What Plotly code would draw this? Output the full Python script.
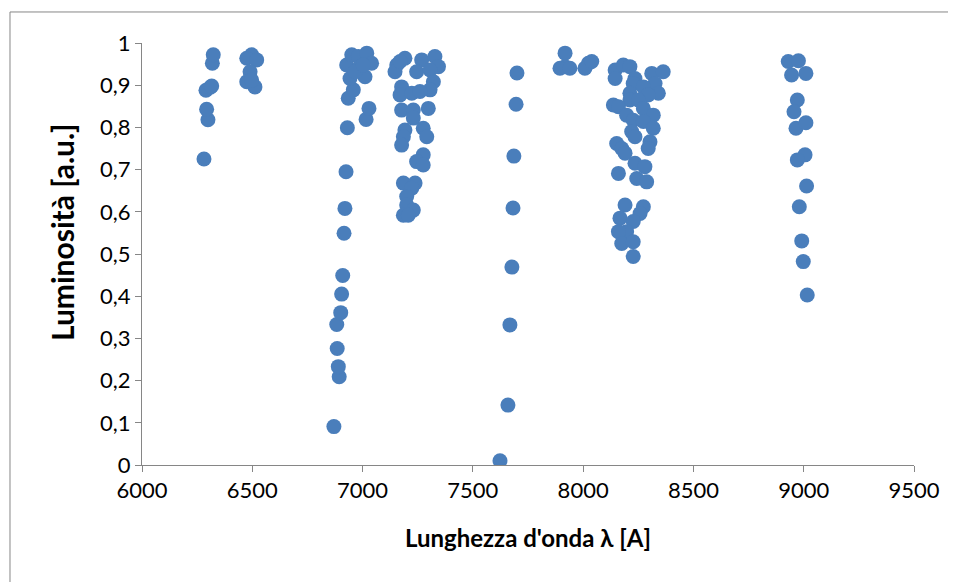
import plotly.graph_objects as go

# Wavelength [A] and luminosity [a.u.]
wavelength_a = [6281, 6299, 6293, 6290, 6310, 6316, 6319, 6323]
luminosity_a = [0.725, 0.818, 0.843, 0.888, 0.895, 0.898, 0.952, 0.972]

wavelength_b = [6497, 6475, 6520, 6490, 6475, 6512, 6497]
luminosity_b = [0.972, 0.964, 0.960, 0.932, 0.908, 0.896, 0.912]

wavelength_c = [6870, 6894, 6890, 6885, 6883, 6901, 6905, 6910, 6916, 6920, 6925, 6931,
                7016, 7029, 6935, 6958, 6943, 7011, 6928, 6951, 6981, 7019, 7041, 6988,
                6966, 7003]
luminosity_c = [0.091, 0.209, 0.233, 0.276, 0.333, 0.361, 0.405, 0.449, 0.549, 0.608, 0.695, 0.799,
                0.819, 0.845, 0.869, 0.889, 0.916, 0.920, 0.948, 0.972, 0.968, 0.976, 0.952, 0.944,
                0.932, 0.948]

wavelength_d = [7155, 7147, 7192, 7170, 7268, 7328, 7344, 7245, 7306, 7177, 7170, 7321,
                7306, 7223, 7260, 7177, 7230, 7298, 7230, 7192, 7275, 7291, 7185, 7177,
                7275, 7245, 7275, 7185, 7238, 7223, 7200, 7200, 7230, 7185, 7207]
luminosity_d = [0.948, 0.932, 0.964, 0.956, 0.960, 0.968, 0.944, 0.932, 0.936, 0.896, 0.877, 0.908,
                0.889, 0.881, 0.885, 0.841, 0.841, 0.845, 0.822, 0.794, 0.798, 0.778, 0.778, 0.758,
                0.735, 0.719, 0.711, 0.668, 0.668, 0.656, 0.636, 0.616, 0.604, 0.592, 0.592]

wavelength_e = [7623, 7659, 7668, 7677, 7682, 7686, 7696, 7700]
luminosity_e = [0.010, 0.142, 0.332, 0.469, 0.609, 0.732, 0.855, 0.929]

wavelength_f = [7918, 7918, 7895, 7940, 8024, 8008, 8039]
luminosity_f = [0.976, 0.944, 0.940, 0.940, 0.952, 0.940, 0.956]

wavelength_g = [8145, 8145, 8182, 8212, 8235, 8227, 8311, 8363, 8326, 8273, 8341, 8212,
                8295, 8212, 8250, 8137, 8160, 8273, 8197, 8318, 8227, 8273, 8318, 8220,
                8235, 8303, 8295, 8152, 8175, 8190, 8235, 8280, 8160, 8243, 8288, 8190,
                8273, 8258, 8167, 8227, 8197, 8160, 8175, 8227, 8227]
luminosity_g = [0.936, 0.916, 0.948, 0.944, 0.916, 0.904, 0.928, 0.932, 0.904, 0.896, 0.881, 0.881,
                0.877, 0.865, 0.865, 0.853, 0.849, 0.845, 0.829, 0.829, 0.817, 0.814, 0.798, 0.790,
                0.778, 0.766, 0.750, 0.762, 0.750, 0.739, 0.715, 0.707, 0.691, 0.679, 0.671, 0.616,
                0.612, 0.596, 0.585, 0.577, 0.553, 0.553, 0.525, 0.529, 0.494]

wavelength_h = [8930, 8976, 8945, 9010, 8971, 8956, 8965, 9010, 9006, 8971, 9013, 8980,
                8991, 8998, 9016]
luminosity_h = [0.956, 0.958, 0.924, 0.928, 0.865, 0.837, 0.798, 0.811, 0.735, 0.723, 0.661, 0.612,
                0.531, 0.482, 0.403]

x_ticks = [6000, 6500, 7000, 7500, 8000, 8500, 9000, 9500]
y_ticks = [0, 0.1, 0.2, 0.3, 0.4, 0.5, 0.6, 0.7, 0.8, 0.9, 1]

wavelength = (wavelength_a + wavelength_b + wavelength_c + wavelength_d +
              wavelength_e + wavelength_f + wavelength_g + wavelength_h)
luminosity = (luminosity_a + luminosity_b + luminosity_c + luminosity_d +
              luminosity_e + luminosity_f + luminosity_g + luminosity_h)

FONT = "Lato"
AXIS_COLOR = "#868686"

fig = go.Figure(go.Scatter(
    x=wavelength, y=luminosity, mode="markers",
    marker=dict(size=15, color="#4a7ebb", line=dict(width=0)),
    hoverinfo="x+y", showlegend=False,
))

frame = dict(color=AXIS_COLOR, width=1)

fig.update_layout(
    width=956, height=582,
    margin=dict(l=134, r=50, t=35, b=125),
    paper_bgcolor="white", plot_bgcolor="white",
    separators=",.",
    font=dict(family=FONT, size=22, color="black"),
    xaxis=dict(
        range=[6000, 9500], tickvals=x_ticks, showgrid=False, zeroline=False,
        showline=True, linecolor=AXIS_COLOR, linewidth=1,
        ticks="outside", ticklen=6, tickcolor=AXIS_COLOR,
        tickfont=dict(family=FONT, size=22),
        title=dict(text="<b>Lunghezza d'onda λ [A]</b>", font=dict(family=FONT, size=24), standoff=27),
    ),
    yaxis=dict(
        range=[0, 1], tickvals=y_ticks, showgrid=False, zeroline=False,
        showline=True, linecolor=AXIS_COLOR, linewidth=1,
        ticks="outside", ticklen=6, tickcolor=AXIS_COLOR,
        tickfont=dict(family=FONT, size=22),
    ),
    annotations=[dict(
        text="<b>Luminosità [a.u.]</b>", textangle=-90,
        xref="paper", yref="paper", x=-0.1036, y=0.552,
        xanchor="center", yanchor="middle", showarrow=False,
        font=dict(family=FONT, size=30, color="black"),
    )],
    shapes=[
        dict(type="line", xref="paper", yref="paper",
             x0=-0.171, x1=-0.171, y0=-0.4, y1=1.0735, line=frame, layer="below"),
        dict(type="line", xref="paper", yref="paper",
             x0=-0.171, x1=1.3, y0=1.0735, y1=1.0735, line=frame, layer="below"),
    ],
)

fig.write_html("out.html", post_script="document.documentElement.style.overflow='hidden';")
